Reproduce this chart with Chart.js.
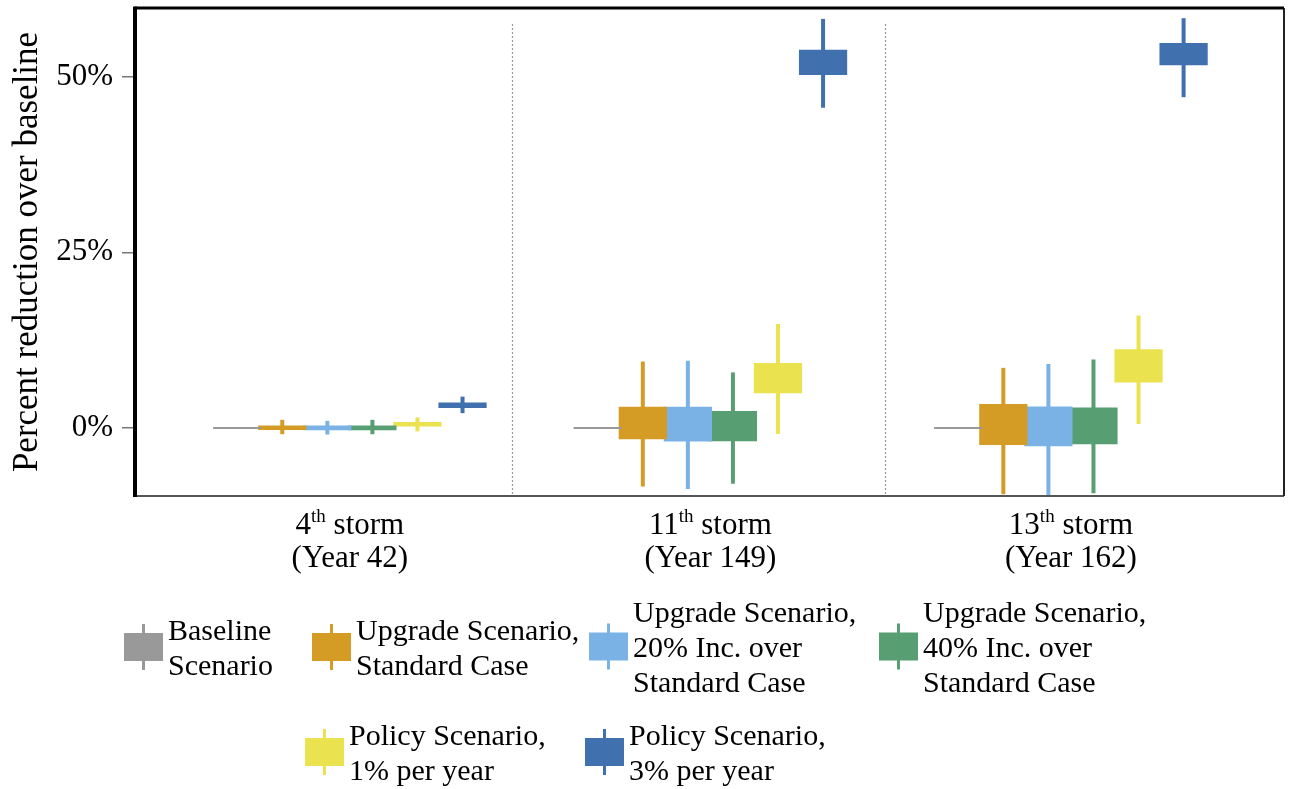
<!DOCTYPE html>
<html>
<head>
<meta charset="utf-8">
<script src="https://cdn.jsdelivr.net/npm/chart.js@4/dist/chart.umd.min.js"></script>
<style>
  html, body { margin: 0; padding: 0; background: #fff; }
  #wrap { position: relative; width: 1291px; height: 789px; overflow: hidden; }
  #chart { position: absolute; left: 0; top: 0; }
  .leg { position: absolute; display: flex; align-items: center; transform: translateY(-50%);
         font-family: "Liberation Serif", "Times New Roman", serif; font-size: 30px; line-height: 35px; color: #000; white-space: pre; }
  .ico { position: relative; width: 39px; height: 28px; flex: none; margin-right: 5px; }
  .ico .w { position: absolute; left: 50%; width: 3px; margin-left: -1.5px; top: -9px; bottom: -9px; }
  .ico .b { position: absolute; left: 0; top: 0; right: 0; bottom: 0; }
</style>
</head>
<body>
<div id="wrap">
  <canvas id="chart" width="1291" height="789"></canvas>
</div>
<script>
// Storm events on the x axis
const stormNumbers = ['4', '11', '13'];
const stormSuffix = ['th', 'th', 'th'];
const stormYears = ['(Year 42)', '(Year 149)', '(Year 162)'];

// Percent reduction axis
const yTicks = [0, 25, 50];
const yRange = [-9.7, 59.8];

// Scenario names (legend text)
const seriesNames = [
  'Baseline\nScenario',
  'Upgrade Scenario,\nStandard Case',
  'Upgrade Scenario,\n20% Inc. over\nStandard Case',
  'Upgrade Scenario,\n40% Inc. over\nStandard Case',
  'Policy Scenario,\n1% per year',
  'Policy Scenario,\n3% per year'
];
const seriesColors = ['#999999', '#D49C24', '#7AB2E6', '#589E73', '#EBE250', '#4070AE'];

// Interquartile boxes [low, high] per storm, in %
const baselineBox    = [[0, 0], [0, 0], [0, 0]];
const upgradeStdBox  = [[-0.3, 0.33], [-1.6, 3.0], [-2.45, 3.42]];
const upgrade20Box   = [[-0.33, 0.33], [-1.95, 3.0], [-2.6, 3.05]];
const upgrade40Box   = [[-0.33, 0.33], [-1.9, 2.4], [-2.33, 2.9]];
const policy1Box     = [[0.2, 0.85], [4.95, 9.25], [6.45, 11.2]];
const policy3Box     = [[2.85, 3.6], [50.25, 53.85], [51.65, 54.8]];

// Whisker extents [min, max] per storm, in %
const baselineWhisker   = [[0, 0], [0, 0], [0, 0]];
const upgradeStdWhisker = [[-0.9, 1.15], [-8.35, 9.45], [-9.45, 8.55]];
const upgrade20Whisker  = [[-0.95, 1.0], [-8.7, 9.55], [-10.5, 9.1]];
const upgrade40Whisker  = [[-0.9, 1.15], [-7.95, 7.9], [-9.3, 9.75]];
const policy1Whisker    = [[-0.5, 1.5], [-0.85, 14.8], [0.55, 16.0]];
const policy3Whisker    = [[2.1, 4.45], [45.6, 58.25], [47.1, 58.35]];

// Dotted separators between storms, in x-axis units
const separators = [0.45, 1.485];

const boxes = [baselineBox, upgradeStdBox, upgrade20Box, upgrade40Box, policy1Box, policy3Box];
const whiskers = [baselineWhisker, upgradeStdWhisker, upgrade20Whisker, upgrade40Whisker, policy1Whisker, policy3Whisker];

const serif = '"Liberation Serif", "Times New Roman", serif';

const datasets = boxes.map((b, s) => ({
  label: seriesNames[s].replace(/\n/g, ' '),
  data: b.map((v, i) => ({ x: i, y: v })),
  backgroundColor: seriesColors[s],
  borderWidth: 0,
  minBarLength: s === 0 ? 2 : undefined,
  whiskers: whiskers[s]
}));

// Whiskers drawn under the boxes, in the series colour
const whiskerPlugin = {
  id: 'whiskers',
  beforeDatasetsDraw(chart) {
    const { ctx, chartArea: a, scales: { y } } = chart;
    ctx.save();
    ctx.beginPath();
    ctx.rect(a.left, a.top, a.right - a.left, a.bottom - a.top);
    ctx.clip();
    chart.data.datasets.forEach((ds, s) => {
      const meta = chart.getDatasetMeta(s);
      meta.data.forEach((el, i) => {
        const [lo, hi] = ds.whiskers[i];
        if (lo === hi) return;
        ctx.strokeStyle = ds.backgroundColor;
        ctx.lineWidth = 4;
        ctx.beginPath();
        ctx.moveTo(el.x, y.getPixelForValue(lo));
        ctx.lineTo(el.x, y.getPixelForValue(hi));
        ctx.stroke();
      });
    });
    ctx.restore();
  }
};

// Frame, separators and the two-line storm labels
const framePlugin = {
  id: 'frame',
  beforeDatasetsDraw(chart) {
    const { ctx, chartArea: a, scales: { x } } = chart;
    ctx.save();
    ctx.strokeStyle = '#9a9a9a';
    ctx.lineWidth = 1.2;
    ctx.setLineDash([2, 2]);
    separators.forEach(v => {
      const px = Math.round(x.getPixelForValue(v)) + 0.5;
      ctx.beginPath();
      ctx.moveTo(px, a.top + 16);
      ctx.lineTo(px, a.bottom);
      ctx.stroke();
    });
    ctx.restore();
  },
  afterDraw(chart) {
    const { ctx, chartArea: a, scales: { x } } = chart;
    ctx.save();
    // bottom and right edges
    ctx.strokeStyle = '#555';
    ctx.lineWidth = 2;
    ctx.beginPath();
    ctx.moveTo(a.left, a.bottom);
    ctx.lineTo(a.right, a.bottom);
    ctx.stroke();
    ctx.strokeStyle = '#222';
    ctx.beginPath();
    ctx.moveTo(a.right, a.top);
    ctx.lineTo(a.right, a.bottom);
    ctx.stroke();
    // top and left edges
    ctx.strokeStyle = '#000';
    ctx.lineWidth = 3;
    ctx.beginPath();
    ctx.moveTo(a.left, a.top);
    ctx.lineTo(a.right, a.top);
    ctx.stroke();
    ctx.lineWidth = 4;
    ctx.beginPath();
    ctx.moveTo(a.left, a.top - 1.5);
    ctx.lineTo(a.left, a.bottom + 1);
    ctx.stroke();

    // storm labels with superscript ordinal
    ctx.fillStyle = '#000';
    ctx.textBaseline = 'alphabetic';
    const big = '31px ' + serif, small = '19px ' + serif;
    stormNumbers.forEach((n, i) => {
      const cx = x.getPixelForValue(i);
      ctx.font = big;
      const wN = ctx.measureText(n).width;
      const wRest = ctx.measureText(' storm').width;
      ctx.font = small;
      const wS = ctx.measureText(stormSuffix[i]).width;
      let px = cx - (wN + wS + wRest) / 2;
      const base1 = a.bottom + 38;
      ctx.font = big;
      ctx.textAlign = 'left';
      ctx.fillText(n, px, base1);
      px += wN;
      ctx.font = small;
      ctx.fillText(stormSuffix[i], px, base1 - 12);
      px += wS;
      ctx.font = big;
      ctx.fillText(' storm', px, base1);
      ctx.textAlign = 'center';
      ctx.fillText(stormYears[i], cx, base1 + 33);
    });
    ctx.restore();
  }
};

new Chart(document.getElementById('chart'), {
  type: 'bar',
  data: { datasets },
  options: {
    responsive: false,
    animation: false,
    layout: { padding: { left: 0, right: 7, top: 8, bottom: 0 } },
    plugins: { legend: { display: false }, tooltip: { enabled: false } },
    datasets: { bar: { categoryPercentage: 0.75, barPercentage: 1.07 } },
    scales: {
      x: {
        type: 'linear',
        offset: false,
        min: -0.596,
        max: 2.591,
        afterBuildTicks(s) { s.ticks = stormNumbers.map((_, i) => ({ value: i })); },
        afterFit(s) { s.height = 293; s.paddingLeft = 0; s.paddingRight = 0; },
        ticks: { display: false },
        grid: { display: false, offset: false },
        border: { display: false }
      },
      y: {
        min: yRange[0],
        max: yRange[1],
        afterBuildTicks(s) { s.ticks = yTicks.map(v => ({ value: v })); },
        afterFit(s) { s.width = 135; s.paddingTop = 0; s.paddingBottom = 0; },
        ticks: {
          color: '#000',
          padding: 9,
          font: { family: serif, size: 31 },
          callback: v => v + '%'
        },
        grid: { drawOnChartArea: false, drawTicks: true, tickLength: 13, color: '#777', lineWidth: 1.5 },
        border: { display: false },
        title: {
          display: true,
          text: 'Percent reduction over baseline',
          color: '#000',
          font: { family: serif, size: 35 },
          padding: { top: 7, bottom: 0 }
        }
      }
    }
  },
  plugins: [whiskerPlugin, framePlugin]
});

// Legend built from the series names and colours
const legendSpots = [[124, 647], [312, 647], [589, 646], [879, 646], [305, 752], [585, 752]];
const wrap = document.getElementById('wrap');
seriesNames.forEach((name, s) => {
  const item = document.createElement('div');
  item.className = 'leg';
  item.style.left = legendSpots[s][0] + 'px';
  item.style.top = legendSpots[s][1] + 'px';
  const ico = document.createElement('div');
  ico.className = 'ico';
  const w = document.createElement('div');
  w.className = 'w';
  w.style.background = seriesColors[s];
  const b = document.createElement('div');
  b.className = 'b';
  b.style.background = seriesColors[s];
  ico.appendChild(w);
  ico.appendChild(b);
  const txt = document.createElement('span');
  txt.textContent = name;
  item.appendChild(ico);
  item.appendChild(txt);
  wrap.appendChild(item);
});
</script>
</body>
</html>
